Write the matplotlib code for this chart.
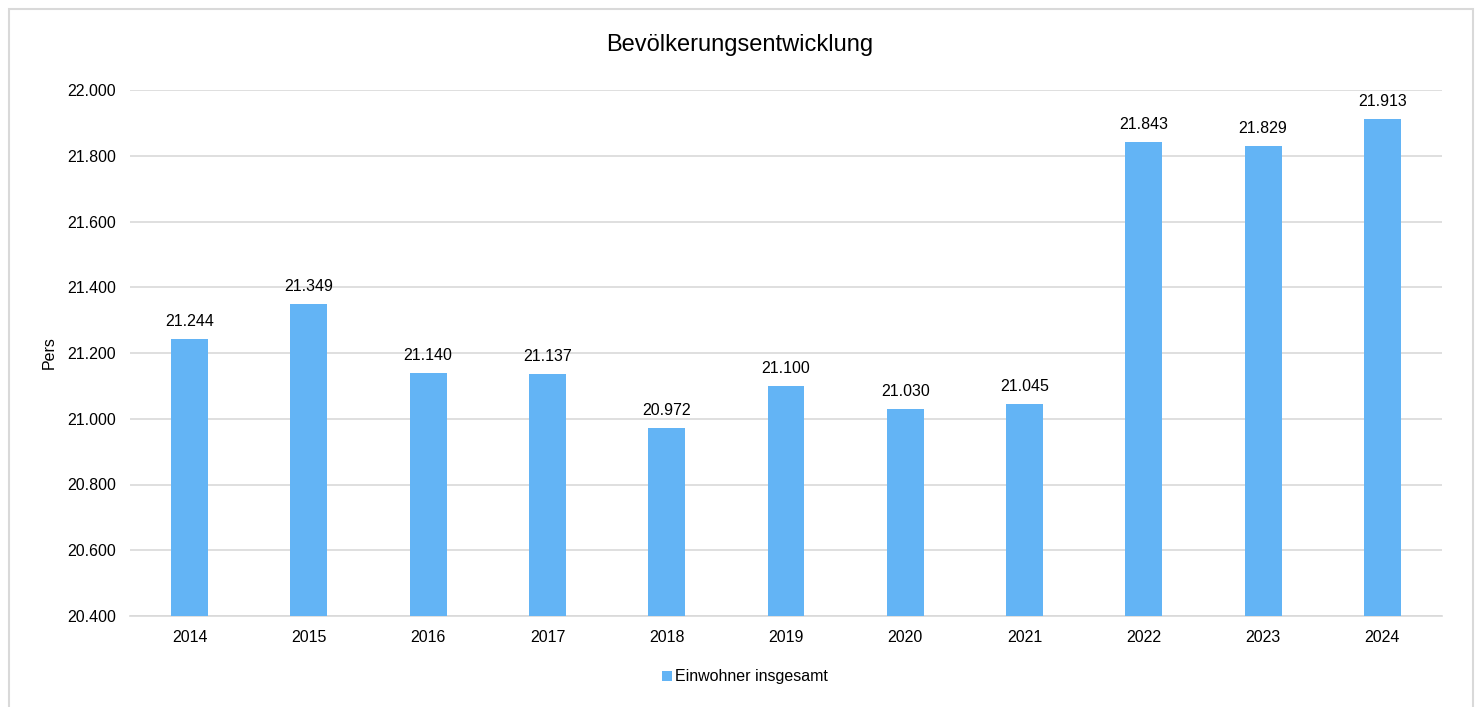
import matplotlib
matplotlib.use("Agg")
import matplotlib.pyplot as plt
from matplotlib.patches import Rectangle
from matplotlib.ticker import FuncFormatter

years = ["2014", "2015", "2016", "2017", "2018", "2019", "2020", "2021", "2022", "2023", "2024"]
einwohner = [21244, 21349, 21140, 21137, 20972, 21100, 21030, 21045, 21843, 21829, 21913]
yticks = [20400, 20600, 20800, 21000, 21200, 21400, 21600, 21800, 22000]

plt.rcParams['font.family'] = ['Liberation Sans', 'DejaVu Sans']

W, H = 1478, 707
fig = plt.figure(figsize=(W / 100, H / 100), dpi=100)
ax = fig.add_axes([130 / W, 1 - 616 / H, 1312 / W, 526 / H])

def fmt(v):
    return f"{v:,.0f}".replace(",", ".")

color = "#63B4F5"
x = list(range(len(years)))
bars = ax.bar(x, einwohner, width=0.31, color=color, zorder=3, label="Einwohner insgesamt")
for xi, v in zip(x, einwohner):
    ax.text(xi, v + 30, fmt(v), ha="center", va="bottom", fontsize=11.5, color="#000000")

ax.set_xlim(-0.5, len(years) - 0.5)
ax.set_ylim(20400, 22000)
ax.set_yticks(yticks)
ax.yaxis.set_major_formatter(FuncFormatter(lambda v, p: fmt(v)))
ax.set_xticks(x)
ax.set_xticklabels(years)
ax.tick_params(axis="both", length=0, labelsize=11.5, colors="#000000")
ax.tick_params(axis="y", pad=10)
ax.tick_params(axis="x", pad=10)
ax.grid(axis="y", color="#D9D9D9", linewidth=1.2, zorder=0)
for s in ["top", "right", "left"]:
    ax.spines[s].set_visible(False)
ax.spines["bottom"].set_color("#D9D9D9")
ax.spines["bottom"].set_linewidth(1.2)

ax.set_ylabel("Pers", fontsize=11.5)
ax.yaxis.set_label_coords(-73 / 1312, 0.5)

fig.text(740 / W, 1 - 45 / H, "Bevölkerungsentwicklung", ha="center", va="center", fontsize=17)

leg = fig.legend(handles=[bars], labels=["Einwohner insgesamt"], loc="center",
                 bbox_to_anchor=(745 / W, 1 - 677 / H), frameon=False, fontsize=11.5,
                 handlelength=0.6, handleheight=0.6, handletextpad=0.2)

fig.patches.append(Rectangle((8.5 / W, -0.05), 1464 / W, 1.05 - 9 / H, transform=fig.transFigure,
                             fill=False, edgecolor="#D9D9D9", linewidth=1.5))

fig.savefig("out.png", dpi=100, facecolor="white")
